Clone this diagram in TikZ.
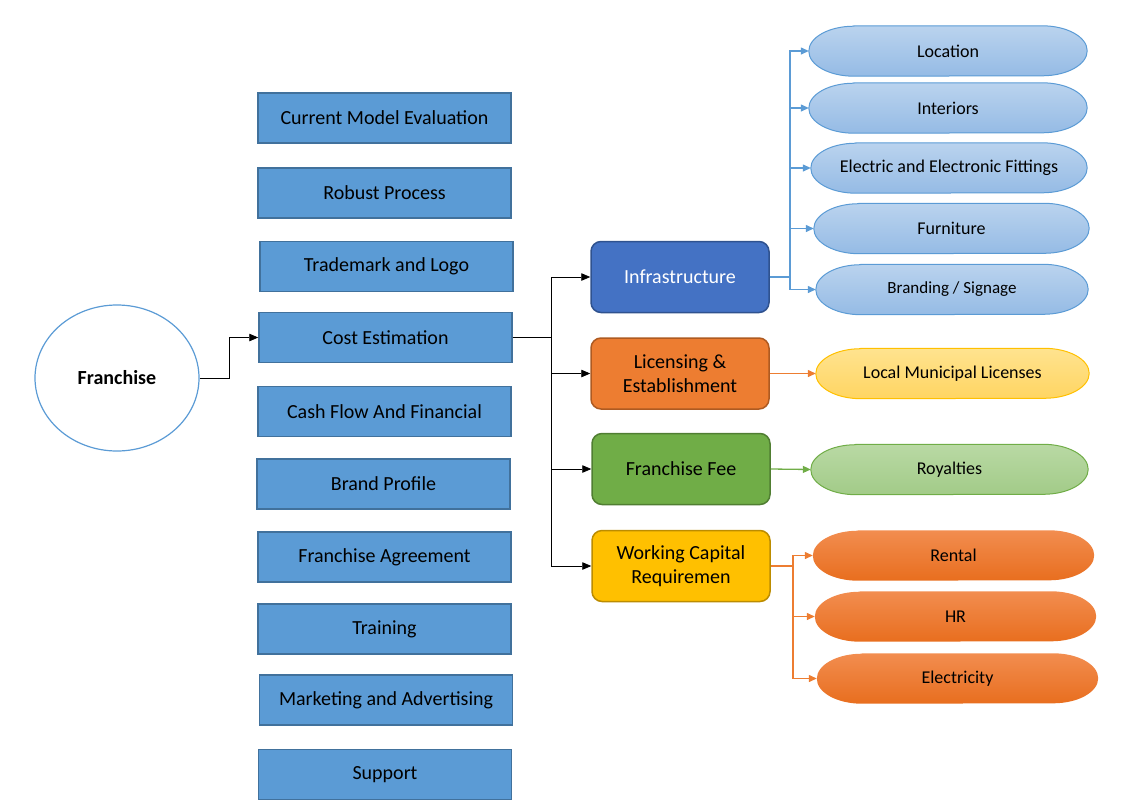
\documentclass[tikz,border=0pt]{standalone}
\usepackage{fontspec}
\setmainfont{Carlito}
\usetikzlibrary{shapes.geometric,arrows.meta,backgrounds}
\definecolor{lfill}{HTML}{5B9BD5}
\definecolor{ldraw}{HTML}{41719C}
\definecolor{infill}{HTML}{4472C4}
\definecolor{indraw}{HTML}{2F528F}
\definecolor{orfill}{HTML}{ED7D31}
\definecolor{ordraw}{HTML}{AE5A21}
\definecolor{grfill}{HTML}{70AD47}
\definecolor{grdraw}{HTML}{507E32}
\definecolor{yefill}{HTML}{FFC000}
\definecolor{yedraw}{HTML}{BC8C00}
\definecolor{bline}{HTML}{5B9BD5}
\definecolor{oline}{HTML}{ED7D31}
\definecolor{gline}{HTML}{70AD47}
\definecolor{btop}{HTML}{BAD3EE}
\definecolor{bbot}{HTML}{95BBE5}
\definecolor{ytop}{HTML}{FFE38F}
\definecolor{ybot}{HTML}{FFD562}
\definecolor{gtop}{HTML}{B9D9A4}
\definecolor{gbot}{HTML}{A2CB88}
\definecolor{otop}{HTML}{F28D50}
\definecolor{obot}{HTML}{E86E1E}
\tikzset{
  lbox/.style={draw=ldraw,fill=lfill,line width=1.5pt,minimum width=253pt,minimum height=50pt,inner sep=0pt,font=\fontsize{20}{24}\selectfont},
  mbox/.style={rounded corners=10pt,line width=1.5pt,minimum width=178pt,minimum height=71pt,inner sep=0pt,align=center,font=\fontsize{20}{24}\selectfont},
  pill/.style={minimum height=50pt,inner sep=0pt,font=\fontsize{18}{21}\selectfont},
  bpill/.style={draw=bline,line width=1pt,top color=btop,bottom color=bbot},
  ypill/.style={draw=yefill,line width=1pt,top color=ytop,bottom color=ybot},
  gpill/.style={draw=grfill,line width=1pt,top color=gtop,bottom color=gbot},
  opill/.style={top color=otop,bottom color=obot},
  blk/.style={-{Triangle[length=9pt,width=7.5pt]},line width=0.8pt,black},
  barr/.style={-{Triangle[length=8pt,width=7pt]},line width=1.3pt,bline},
  oarr/.style={-{Triangle[length=8pt,width=7pt]},line width=1.3pt,oline},
  garr/.style={-{Triangle[length=8pt,width=7pt]},line width=1.3pt,gline},
}
% pill outline behind a named node: #1 node name, #2 path options
\newcommand{\pillbg}[2]{%
  \path[#2] ([xshift=45pt]#1.north west) -- ([xshift=-45pt]#1.north east)
    arc[start angle=90,end angle=-90,x radius=45pt,y radius=25pt]
    -- ([xshift=45pt]#1.south west)
    arc[start angle=270,end angle=90,x radius=45pt,y radius=25pt] -- cycle;}
\begin{document}
\begin{tikzpicture}[x=1pt,y=-1pt]
\useasboundingbox (0,0) rectangle (1121,806);
% Franchise ellipse
\node[ellipse,draw=bline,line width=1.2pt,minimum width=164pt,minimum height=146pt,font=\bfseries\fontsize{20}{24}\selectfont] (fr) at (117,378) {Franchise};
% left boxes
\node[lbox] (l1) at (384.5,118) {Current Model Evaluation};
\node[lbox] (l2) at (384.5,193) {Robust Process};
\node[lbox] (l3) at (386.5,266.5) {Trademark and Logo};
\node[lbox] (l4) at (385.5,337.5) {Cost Estimation};
\node[lbox] (l5) at (384.5,411.5) {Cash Flow And Financial};
\node[lbox] (l6) at (383.5,484) {Brand Profile};
\node[lbox] (l7) at (384.5,557) {Franchise Agreement};
\node[lbox] (l8) at (384.5,629) {Training};
\node[lbox] (l9) at (386,700) {Marketing and Advertising};
\node[lbox] (l10) at (385,774.5) {Support};
% middle boxes
\node[mbox,draw=indraw,fill=infill,text=white] (m1) at (680,277) {Infrastructure};
\node[mbox,draw=ordraw,fill=orfill] (m2) at (680,373.5) {Licensing \&\\Establishment};
\node[mbox,draw=grdraw,fill=grfill] (m3) at (681,469) {Franchise Fee};
\node[mbox,draw=yedraw,fill=yefill] (m4) at (681,566) {Working Capital\\Requiremen};
% right pills
\node[pill,minimum width=278pt] (p1) at (948,51) {Location};
\node[pill,minimum width=278pt] (p2) at (948,108) {Interiors};
\node[pill,minimum width=276pt] (p3) at (949,168) {Electric and Electronic Fittings};
\node[pill,minimum width=275pt] (p4) at (951.5,228.5) {Furniture};
\node[pill,minimum width=272pt,font=\fontsize{17}{20}\selectfont] (p5) at (952,289.5) {Branding / Signage};
\node[pill,minimum width=273pt] (p6) at (952.5,373.5) {Local Municipal Licenses};
\node[pill,minimum width=277pt] (p7) at (949.5,469.5) {Royalties};
\node[pill,minimum width=281pt] (p8) at (953.5,555.5) {Rental};
\node[pill,minimum width=281pt] (p9) at (955.5,616.5) {HR};
\node[pill,minimum width=281pt] (p10) at (957.5,678.5) {Electricity};
\begin{pgfonlayer}{background}
\foreach \p in {p1,p2,p3,p4,p5}{\pillbg{\p}{bpill}}
\pillbg{p6}{ypill}
\pillbg{p7}{gpill}
\foreach \p in {p8,p9,p10}{\pillbg{\p}{opill}}
\end{pgfonlayer}
% bus coordinates
\coordinate (fb) at (229,0);
\coordinate (cb) at (551,0);
\coordinate (ib) at (790,0);
\coordinate (wb) at (793,0);
% connectors
\draw[blk] (fr.east) -- (fb |- fr.east) |- (l4.west);
\draw[blk] (l4.east) -- (cb |- l4.east) |- (m1.west);
\draw[blk] (l4.east) -- (cb |- l4.east) |- (m2.west);
\draw[blk] (l4.east) -- (cb |- l4.east) |- (m3.west);
\draw[blk] (l4.east) -- (cb |- l4.east) |- (m4.west);
\foreach \p in {p1,p2,p3,p4,p5}{
  \draw[barr] (m1.east) -- (ib |- m1.east) |- (\p.west);
}
\draw[oarr] (m2.east) -- (p6.west);
\draw[garr] (m3.east) -- (p7.west);
\foreach \p in {p8,p9,p10}{
  \draw[oarr] (m4.east) -- (wb |- m4.east) |- (\p.west);
}
\end{tikzpicture}
\end{document}
